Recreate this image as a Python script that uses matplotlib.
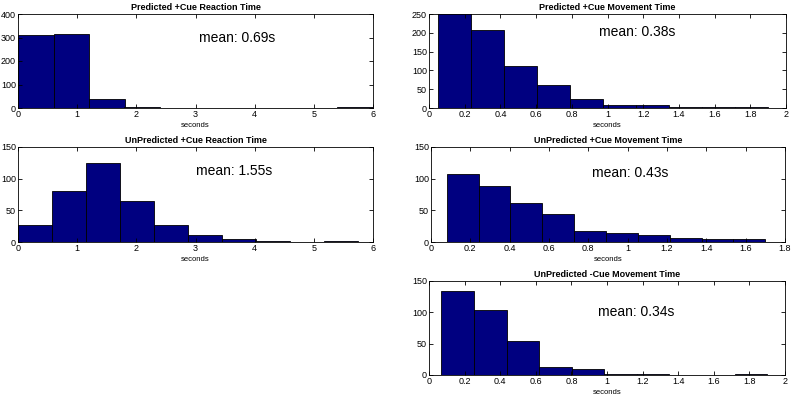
import numpy as np
import matplotlib
matplotlib.use("Agg")
from matplotlib import pyplot as plt

plt.rcParams['font.family'] = ['Liberation Sans', 'DejaVu Sans']

# panel data: bin range (first edge, last edge), counts, x limit, y limit
titles = ['Predicted +Cue Reaction Time', 'Predicted +Cue Movement Time',
          'UnPredicted +Cue Reaction Time', 'UnPredicted +Cue Movement Time',
          'UnPredicted -Cue Movement Time']
means = ['mean: 0.69s', 'mean: 0.38s', 'mean: 1.55s', 'mean: 0.43s', 'mean: 0.34s']
bin_range = [(0.0, 6.0), (0.05, 1.9), (0.0, 5.75), (0.08, 1.7), (0.07, 1.9)]
counts_prc_rt = [310, 316, 37, 4, 2, 2, 0, 0, 0, 3]
counts_prc_mt = [252, 207, 112, 60, 25, 9, 7, 2, 3, 3]
counts_uprc_rt = [27, 81, 124, 65, 27, 11, 4, 1, 0, 2]
counts_uprc_mt = [108, 88, 62, 44, 17, 15, 11, 7, 5, 5]
counts_upnc_mt = [134, 104, 55, 12, 9, 2, 2, 0, 0, 1]
counts = [counts_prc_rt, counts_prc_mt, counts_uprc_rt, counts_uprc_mt, counts_upnc_mt]
xlims = [6, 2, 6, 1.8, 2]
xticks = [np.arange(0, 7, 1), np.arange(0, 2.01, 0.2), np.arange(0, 7, 1),
          np.arange(0, 1.81, 0.2), np.arange(0, 2.01, 0.2)]
ylims = [400, 250, 150, 150, 150]
ysteps = [100, 50, 50, 50, 50]

W, H = 791, 398
# axes boxes in pixels: left, top, right, bottom
boxes = [(18, 14, 373, 108), (429, 14, 786, 108), (18, 147, 373, 242),
         (431, 147, 785, 242), (429, 281, 785, 375)]
text_pos = [(0.51, 0.745), (0.476, 0.81), (0.50, 0.75), (0.455, 0.73), (0.475, 0.67)]

fig = plt.figure(figsize=(W / 100, H / 100), dpi=100)
for i in range(5):
    l, t, r, b = boxes[i]
    ax = fig.add_axes([l / W, 1 - b / H, (r - l) / W, (b - t) / H])
    lo, hi = bin_range[i]
    edges = np.linspace(lo, hi, len(counts[i]) + 1)
    ax.bar(edges[:-1], counts[i], width=np.diff(edges), align='edge',
           color='#000080', edgecolor='black', linewidth=0.6)
    ax.set_xlim(0, xlims[i])
    ax.set_ylim(0, ylims[i])
    ax.set_xticks(xticks[i])
    ax.set_xticklabels(['%g' % round(v, 1) for v in xticks[i]])
    ax.set_yticks(np.arange(0, ylims[i] + 1, ysteps[i]))
    ax.tick_params(direction='in', top=True, right=True, labelsize=6.5,
                   length=3, width=0.6, pad=1.5)
    for s in ax.spines.values():
        s.set_linewidth(0.6)
    ax.set_title(titles[i], fontsize=6.5, fontweight='bold', pad=3)
    ax.set_xlabel('seconds', fontsize=5.5, labelpad=2)
    ax.text(text_pos[i][0], text_pos[i][1], means[i], transform=ax.transAxes,
            fontsize=10, va='center', ha='left')

fig.savefig('out.png', dpi=100)
